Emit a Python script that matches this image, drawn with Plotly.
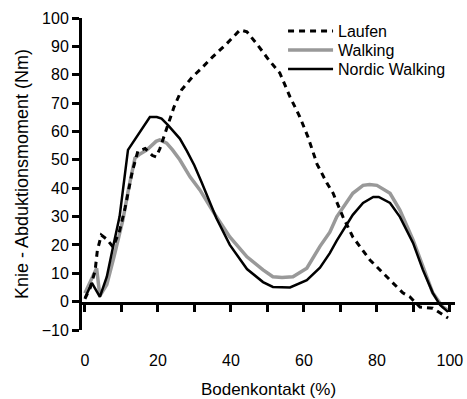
import plotly.graph_objects as go

# Data
laufen_x = [0, 1.5, 2.8, 3.4, 4.5, 6, 7.7, 9.5, 11, 13, 14.5, 16.5, 18.5, 19.5, 20.5, 22.3, 24.4,
            26.5, 29.5, 31.5, 33.5, 35, 38.9, 42.5, 44.4, 47, 50.4, 53.4, 56.2, 58.9, 61.1, 63.6,
            66.3, 68, 70.7, 73.4, 78.1, 82.7, 87.1, 89, 91.8, 95.3, 98, 99.5]
laufen_y = [1, 5, 11, 18, 23.5, 22, 19.3, 25, 33, 46, 53, 54, 51.5, 51, 53.8, 61, 68.6,
            74.7, 79.3, 81.7, 84.5, 86.3, 91, 95.8, 95.1, 91, 85.2, 80.6, 72.2, 65.1, 58.1, 48.5,
            41.8, 38.2, 29.9, 22.8, 14.7, 8.8, 3.1, 1.7, -1.9, -2.3, -4.7, -5.8]

walking_x = [0, 1.5, 3.2, 4.1, 6, 8, 10.4, 12, 13.7, 15, 17, 19.5, 20.5, 22.4, 24, 26, 28.8, 31.5,
             35, 39.7, 44.4, 48.8, 51.5, 54, 57, 60.8, 64.4, 67.1, 69, 73.4, 76.2, 78, 80, 83.6,
             86.3, 89.9, 92.6, 95.3, 98, 99.5]
walking_y = [3, 7, 11.8, 2, 6, 16, 28.8, 40, 50.6, 52, 53.5, 56.5, 57, 55.9, 53.5, 50, 44, 39.4,
             32, 22.8, 15.8, 11.2, 8.8, 8.5, 8.8, 11.8, 19.5, 24.5, 29.9, 38.2, 41, 41.3, 41, 38.2,
             32.3, 21.8, 12.3, 3.1, -1.8, -3]

nordic_x = [0, 1.9, 4.1, 6, 7.7, 9.5, 11.8, 13.2, 15.5, 17.8, 19.7, 21, 22.7, 26, 28, 30, 32,
            34.2, 36, 39.7, 44.4, 48.8, 51.5, 56.2, 60.8, 64.4, 67.1, 69, 73.4, 76.2, 79, 80.5,
            83.6, 86.3, 89.9, 92.6, 95.3, 97.3, 99.5]
nordic_y = [1.3, 6.6, 1.7, 8.8, 19.3, 30, 53.5, 56.3, 60.5, 65.1, 65.1, 64.5, 62.3, 57.5, 53, 48,
            42, 35, 29.5, 20, 11.5, 6.9, 5.2, 5.0, 7.6, 12, 17.1, 21.5, 30.6, 34.8, 36.9, 36.9,
            34.8, 29.9, 20.7, 11.2, 3.1, -1.2, -3.6]

x_ticks = [0, 20, 40, 60, 80, 100]
x_axis_ticks = [0, 10, 20, 30, 40, 50, 60, 70, 80, 90, 100]
y_ticks = [-10, 0, 10, 20, 30, 40, 50, 60, 70, 80, 90, 100]
y_min, y_max = -10, 100
x_min, x_max = -0.8, 101.4

FONT = "Arial, Liberation Sans, sans-serif"

fig = go.Figure()
# empty helper trace so the y = 0 axis (x2/y2) is drawn
fig.add_trace(go.Scatter(x=[], y=[], xaxis="x2", yaxis="y2", showlegend=False,
                         hoverinfo="skip"))
fig.add_trace(go.Scatter(x=walking_x, y=walking_y, mode="lines", name="Walking",
                         line=dict(color="#999999", width=3.5), legend="legend2"))
fig.add_trace(go.Scatter(x=nordic_x, y=nordic_y, mode="lines", name="Nordic Walking",
                         line=dict(color="#000000", width=2.5), legend="legend3"))
fig.add_trace(go.Scatter(x=laufen_x, y=laufen_y, mode="lines", name="Laufen",
                         line=dict(color="#000000", width=3, dash="6px,5px"), legend="legend"))

PLOT_TOP, PLOT_H = 18, 312


def leg(py):
    return dict(x=0.539, y=1 - (py - PLOT_TOP) / PLOT_H, xanchor="left", yanchor="middle",
                bgcolor="rgba(0,0,0,0)", font=dict(size=16), itemwidth=45)


zero_frac = (0 - y_min) / (y_max - y_min)

fig.update_layout(
    width=467, height=399,
    margin=dict(l=82, r=12, t=18, b=69),
    paper_bgcolor="white", plot_bgcolor="rgba(0,0,0,0)",
    font=dict(family=FONT, size=16, color="#000000"),
    showlegend=True,
    legend=leg(31), legend2=leg(50), legend3=leg(69),
    # bottom axis: tick labels and title only
    xaxis=dict(range=[x_min, x_max], showgrid=False, zeroline=False, automargin=False,
               anchor="y", tickvals=x_ticks, ticks="outside", ticklen=16, tickwidth=1,
               tickcolor="rgba(0,0,0,0)", showline=False,
               title=dict(text="Bodenkontakt (%)", font=dict(size=17), standoff=21)),
    # axis line with ticks drawn at y = 0
    xaxis2=dict(range=[x_min, x_max], anchor="y2", showgrid=False, zeroline=False,
                automargin=False, tickvals=x_axis_ticks, ticks="outside", ticklen=7,
                tickwidth=3, tickcolor="black", showticklabels=False,
                showline=True, linecolor="black", linewidth=3),
    yaxis2=dict(domain=[zero_frac, 1], anchor="x2", range=[0, y_max], showgrid=False,
                zeroline=False, showline=False, showticklabels=False, ticks="",
                automargin=False),
    yaxis=dict(range=[y_min, y_max], showgrid=False, zeroline=False, automargin=False,
               tickvals=y_ticks, ticks="outside", ticklen=7, tickwidth=3, tickcolor="black",
               showline=True, linecolor="black", linewidth=3,
               title=dict(text="Knie - Abduktionsmoment (Nm)", font=dict(size=18), standoff=9)),
)

fig.write_html("out.html")
